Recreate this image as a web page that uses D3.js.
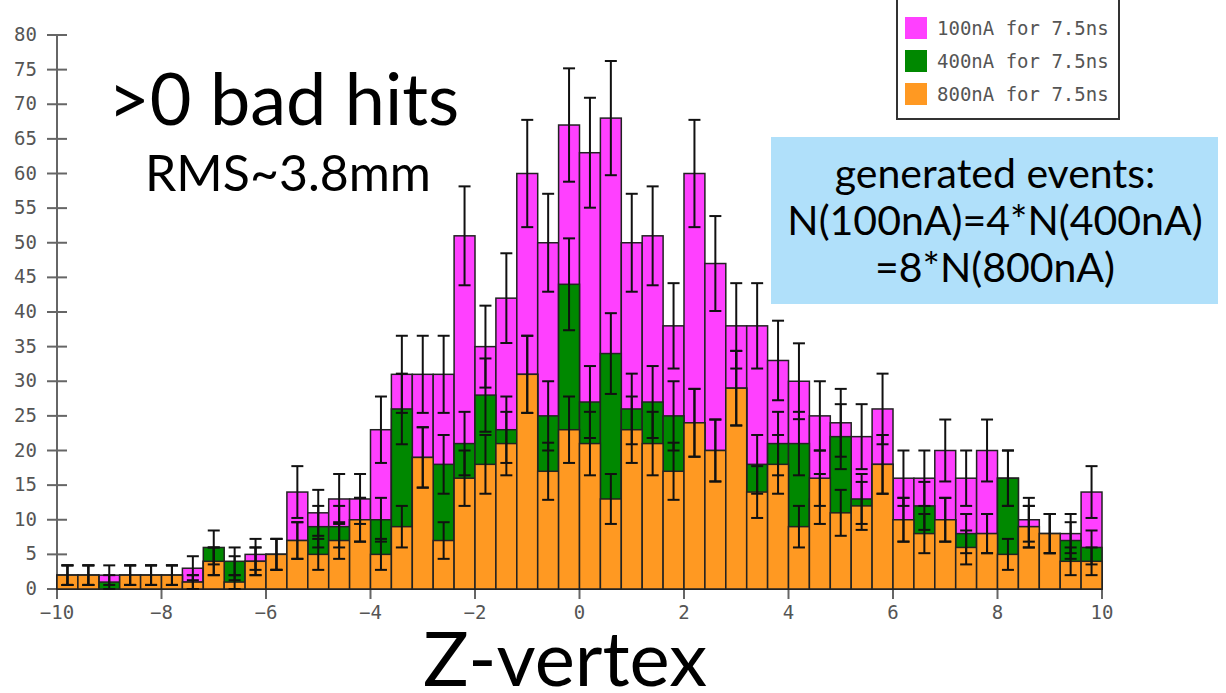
<!DOCTYPE html>
<html lang="en">
<head>
<meta charset="UTF-8">
<title>Z-vertex</title>
<script src="https://d3js.org/d3.v7.min.js"></script>
<style>
  body { margin: 0; background: #fff; }
</style>
</head>
<body>
<script>
    // bins of 0.4 in z, from -10 to 10
    binStart = -10
    binWidth = 0.4
    xTicks = [-10, -8, -6, -4, -2, 0, 2, 4, 6, 8, 10]
    yTicks = d3.range(0, 81, 5)

    series = ["100nA for 7.5ns", "400nA for 7.5ns", "800nA for 7.5ns"]
    colors = ["#ff40ff", "#008800", "#ff9922"]

    counts100 = [2, 2, 2, 2, 2, 2, 3, 4, 3, 5,
                 5, 14, 11, 13, 13, 23, 31, 31, 31, 51,
                 35, 42, 60, 50, 67, 63, 68, 50, 51, 38,
                 60, 47, 38, 38, 33, 30, 25, 24, 22, 26,
                 16, 16, 20, 16, 20, 16, 10, 8, 8, 14]
    counts400 = [2, 2, 1, 2, 2, 2, 1, 6, 4, 4,
                 5, 7, 9, 9, 10, 10, 26, 19, 18, 21,
                 28, 23, 31, 25, 44, 27, 34, 26, 27, 25,
                 24, 20, 29, 18, 21, 21, 13, 22, 13, 18,
                 10, 12, 10, 8, 8, 16, 9, 8, 7, 6]
    counts800 = [2, 2, 0, 2, 2, 2, 1, 4, 1, 4,
                 5, 7, 5, 7, 10, 5, 9, 19, 7, 16,
                 18, 21, 31, 17, 23, 21, 13, 23, 21, 17,
                 24, 20, 29, 14, 18, 9, 16, 11, 12, 18,
                 10, 8, 10, 6, 8, 5, 9, 8, 4, 4]

    allCounts = [counts100, counts400, counts800]

    W = 1226
    H = 693

    svg = d3.select("body")
        .append("svg")
        .attr("width", W)
        .attr("height", H)

    x = d3.scaleLinear().domain([-10, 10]).range([57, 1102])
    y = d3.scaleLinear().domain([0, 80]).range([589, 35])

    axisColor = "#666"
    labelFont = "DejaVu Sans Mono, monospace"

    //axes (drawn first, bars cover the inner tick halves)
    ax = svg.append("g")
    ax.append("line")
        .attr("x1", x(-10)).attr("x2", x(10))
        .attr("y1", y(0)).attr("y2", y(0))
        .attr("stroke", axisColor).attr("stroke-width", 2)
    ax.append("line")
        .attr("x1", x(-10)).attr("x2", x(-10))
        .attr("y1", y(0)).attr("y2", y(80))
        .attr("stroke", axisColor).attr("stroke-width", 2)

    ax.selectAll("line.ytick")
        .data(yTicks)
        .enter().append("line")
        .attr("class", "ytick")
        .attr("x1", x(-10) - 10).attr("x2", x(-10) + 10)
        .attr("y1", (d) => y(d)).attr("y2", (d) => y(d))
        .attr("stroke", axisColor).attr("stroke-width", 2)
    ax.selectAll("text.ylab")
        .data(yTicks)
        .enter().append("text")
        .attr("class", "ylab")
        .attr("x", x(-10) - 20)
        .attr("y", (d) => y(d) + 6)
        .attr("text-anchor", "end")
        .attr("font-family", labelFont)
        .attr("font-size", 19)
        .attr("fill", "#555")
        .text((d) => d)

    ax.selectAll("line.xtick")
        .data(xTicks)
        .enter().append("line")
        .attr("class", "xtick")
        .attr("x1", (d) => x(d)).attr("x2", (d) => x(d))
        .attr("y1", y(0) - 10).attr("y2", y(0) + 10)
        .attr("stroke", axisColor).attr("stroke-width", 2)
    ax.selectAll("text.xlab")
        .data(xTicks)
        .enter().append("text")
        .attr("class", "xlab")
        .attr("x", (d) => x(d))
        .attr("y", y(0) + 30)
        .attr("text-anchor", "middle")
        .attr("font-family", labelFont)
        .attr("font-size", 19)
        .attr("fill", "#555")
        .text((d) => d < 0 ? "\u2212" + Math.abs(d) : d)

    //histograms, overlaid: 100nA first, 800nA on top
    allCounts.forEach((counts, k) => {
        svg.append("g")
            .selectAll("rect")
            .data(counts.map((c, i) => ({i: i, c: c})).filter((d) => d.c > 0))
            .enter().append("rect")
            .attr("x", (d) => x(binStart + d.i * binWidth))
            .attr("width", (d) => x(binStart + (d.i + 1) * binWidth) - x(binStart + d.i * binWidth))
            .attr("y", (d) => y(d.c))
            .attr("height", (d) => y(0) - y(d.c))
            .attr("fill", colors[k])
            .attr("stroke", "#222")
            .attr("stroke-width", 1.5)
    })

    //error bars (sqrt N) on top of everything
    allCounts.forEach((counts) => {
        g = svg.append("g").attr("stroke", "#111").attr("stroke-width", 2)
        counts.forEach((c, i) => {
            if (c <= 0) return
            cx = x(binStart + (i + 0.5) * binWidth)
            e = Math.sqrt(c)
            g.append("line").attr("x1", cx).attr("x2", cx)
                .attr("y1", y(c - e)).attr("y2", y(c + e))
            g.append("line").attr("x1", cx - 6).attr("x2", cx + 6)
                .attr("y1", y(c - e)).attr("y2", y(c - e))
            g.append("line").attr("x1", cx - 6).attr("x2", cx + 6)
                .attr("y1", y(c + e)).attr("y2", y(c + e))
        })
    })

    //legend (top edge runs off the picture)
    lg = svg.append("g")
    lg.append("rect")
        .attr("x", 897).attr("y", -5)
        .attr("width", 222).attr("height", 124)
        .attr("fill", "#fff")
        .attr("stroke", "#333").attr("stroke-width", 2)
    series.forEach((s, k) => {
        lg.append("rect")
            .attr("x", 905).attr("y", 17 + k * 33)
            .attr("width", 22).attr("height", 22)
            .attr("fill", colors[k])
        lg.append("text")
            .attr("x", 937).attr("y", 35 + k * 33)
            .attr("font-family", labelFont)
            .attr("font-size", 19)
            .attr("fill", "#555")
            .text(s)
    })

    //annotations
    titleFont = "Lato, 'Open Sans', sans-serif"
    svg.append("text")
        .attr("x", 108).attr("y", 125)
        .attr("font-family", titleFont).attr("font-size", 72)
        .attr("fill", "#000")
        .text(">0 bad hits")
    svg.append("text")
        .attr("x", 145).attr("y", 191)
        .attr("font-family", titleFont).attr("font-size", 50)
        .attr("fill", "#000")
        .text("RMS~3.8mm")
    svg.append("text")
        .attr("x", 565).attr("y", 686)
        .attr("text-anchor", "middle")
        .attr("font-family", titleFont).attr("font-size", 76)
        .attr("fill", "#000")
        .text("Z-vertex")

    box = svg.append("g")
    box.append("rect")
        .attr("x", 771).attr("y", 137)
        .attr("width", 447).attr("height", 167)
        .attr("fill", "#b0e0fa")
    boxLines = ["generated events:", "N(100nA)=4*N(400nA)", "=8*N(800nA)"]
    box.selectAll("text")
        .data(boxLines)
        .enter().append("text")
        .attr("x", 995)
        .attr("y", (d, i) => 188 + i * 47)
        .attr("text-anchor", "middle")
        .attr("font-family", titleFont).attr("font-size", 41)
        .attr("fill", "#000")
        .text((d) => d)
</script>
</body>
</html>
